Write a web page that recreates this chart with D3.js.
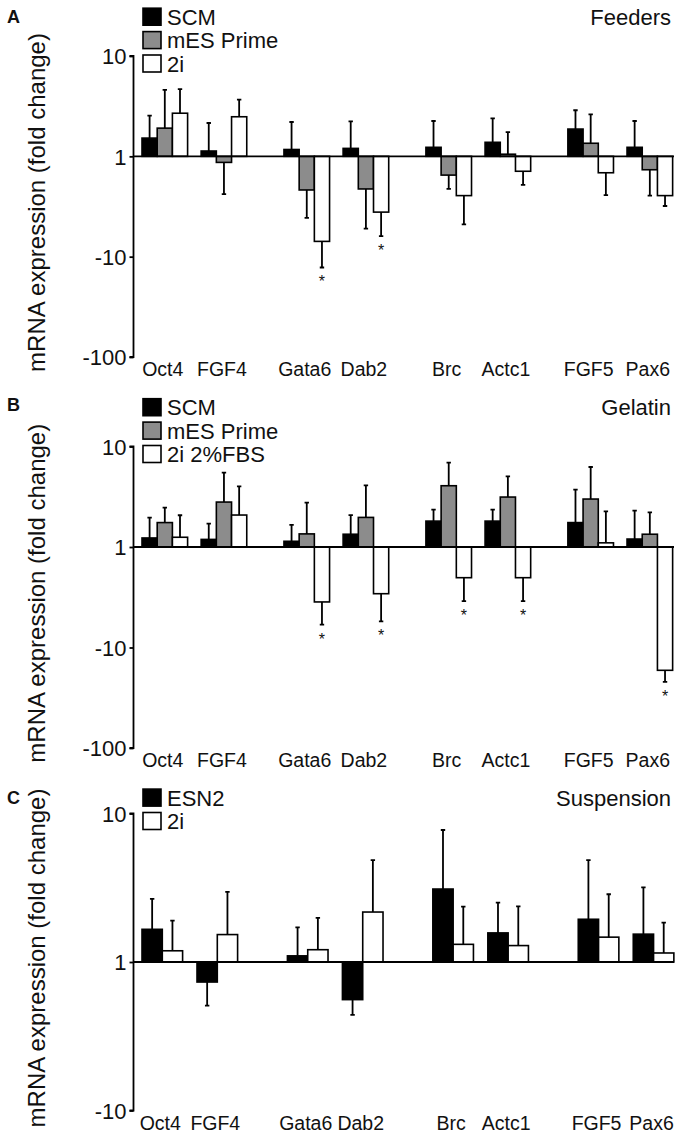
<!DOCTYPE html>
<html><head><meta charset="utf-8">
<script src="https://cdn.jsdelivr.net/npm/d3@7"></script>
<style>
html,body{margin:0;padding:0;background:#fff;}
svg text{font-family:"Liberation Sans",Arial,sans-serif;fill:#111;}
</style></head>
<body>
<svg id="chart" width="682" height="1137"></svg>
<script>
// ---------- data (fold-change ratios; values below 1 are shown as negative fold) ----------
const categories = ["Oct4","FGF4","Gata6","Dab2","Brc","Actc1","FGF5","Pax6"];

// Panel A – Feeders
const feedersSCM      = [1.52, 1.13, 1.17, 1.20, 1.23, 1.38, 1.87, 1.23];
const feedersSCMErr   = [2.54, 2.15, 2.20, 2.23, 2.25, 2.39, 2.88, 2.25];
const feedersPrime    = [1.91, 0.87, 0.462, 0.473, 0.65, 1.05, 1.35, 0.735];
const feedersPrimeErr = [4.60, 0.42, 0.244, 0.19, 0.473, 1.74, 2.62, 0.406];
const feeders2i       = [2.69, 2.48, 0.142, 0.278, 0.406, 0.71, 0.686, 0.406];
const feeders2iErr    = [4.68, 3.68, 0.078, 0.16, 0.21, 0.52, 0.41, 0.32];
const feeders2iSig    = [0, 0, 1, 1, 0, 0, 0, 0];

// Panel B – Gelatin
const gelatinSCM      = [1.23, 1.19, 1.14, 1.34, 1.81, 1.81, 1.75, 1.20];
const gelatinSCMErr   = [1.96, 1.71, 1.66, 2.08, 2.35, 2.35, 3.72, 2.30];
const gelatinPrime    = [1.75, 2.80, 1.35, 1.97, 4.07, 3.14, 3.00, 1.34];
const gelatinPrimeErr = [2.46, 5.49, 2.76, 4.11, 6.90, 5.05, 6.25, 2.21];
const gelatin2i       = [1.25, 2.08, 0.284, 0.343, 0.495, 0.495, 1.10, 0.0593];
const gelatin2iErr    = [2.07, 4.02, 0.169, 0.182, 0.29, 0.29, 2.26, 0.0454];
const gelatin2iSig    = [0, 0, 1, 1, 1, 1, 0, 1];

// Panel C – Suspension
const suspESN2        = [1.66, 0.733, 1.10, 0.558, 3.10, 1.57, 1.94, 1.54];
const suspESN2Err     = [2.66, 0.508, 1.71, 0.44, 7.74, 2.51, 4.86, 3.18];
const susp2i          = [1.19, 1.53, 1.21, 2.17, 1.315, 1.29, 1.47, 1.15];
const susp2iErr       = [1.90, 2.97, 1.98, 4.86, 2.36, 2.37, 2.86, 1.84];

const ticksAB = [10, 1, 0.1, 0.01];
const ticksC  = [10, 1, 0.1];
const fmtTick = v => v >= 1 ? String(v) : String(-Math.round(1 / v));

// ---------- drawing ----------
const svg = d3.select("#chart");
const BLACK = "#000", GRAY = "#8c8c8c", WHITE = "#fff";
const axisX = 133.5, rightX = 674;

const panels = [
  { letter: "A", title: "Feeders", domain: [0.01, 10], range: [357, 56], ticks: ticksAB,
    letterY: 23, start: 142, slot: 59.15, gap: 0.4, barW: 15.2,
    series: [
      { name: "SCM", fill: BLACK, v: feedersSCM, e: feedersSCMErr },
      { name: "mES Prime", fill: GRAY, v: feedersPrime, e: feedersPrimeErr },
      { name: "2i", fill: WHITE, v: feeders2i, e: feeders2iErr, sig: feeders2iSig }
    ] },
  { letter: "B", title: "Gelatin", domain: [0.01, 10], range: [748, 446.5], ticks: ticksAB,
    letterY: 411, start: 142, slot: 59.15, gap: 0.4, barW: 15.2,
    series: [
      { name: "SCM", fill: BLACK, v: gelatinSCM, e: gelatinSCMErr },
      { name: "mES Prime", fill: GRAY, v: gelatinPrime, e: gelatinPrimeErr },
      { name: "2i 2%FBS", fill: WHITE, v: gelatin2i, e: gelatin2iErr, sig: gelatin2iSig }
    ] },
  { letter: "C", title: "Suspension", domain: [0.1, 10], range: [1110.5, 813.5], ticks: ticksC,
    letterY: 804, start: 142, slot: 55, gap: 0.644, barW: 20.3,
    series: [
      { name: "ESN2", fill: BLACK, v: suspESN2, e: suspESN2Err },
      { name: "2i", fill: WHITE, v: susp2i, e: susp2iErr }
    ] }
];

panels.forEach(p => {
  const g = svg.append("g");
  const y = d3.scaleLog().domain(p.domain).range(p.range);
  const y1 = y(1);
  const nS = p.series.length;
  const gw = p.barW * nS;
  const slotIdx = categories.map((c, i) => i + Math.floor(i / 2) * p.gap);
  const x = d3.scaleLinear().domain([0, 1]).range([p.start, p.start + p.slot]);
  const xs = d3.scaleBand().domain(p.series.map(s => s.name)).range([0, gw]);

  // y axis
  const axis = d3.axisLeft(y).tickValues(p.ticks).tickFormat(fmtTick).tickSize(4).tickPadding(3);
  const ag = g.append("g").attr("transform", `translate(${axisX},0)`).call(axis);
  ag.select(".domain").attr("stroke", "#000").attr("stroke-width", 1.8).attr("d", `M-4,${p.range[1]}H0V${p.range[0]}H-4`);
  ag.selectAll(".tick line").attr("stroke", "#000").attr("stroke-width", 1.8);
  ag.selectAll(".tick text").style("font-size", "22px").attr("dy", "0.36em").attr("fill", "#111");

  // y title
  const cy = (p.range[0] + p.range[1]) / 2 - 4;
  g.append("text").attr("transform", `translate(45,${cy}) rotate(-90)`)
    .attr("text-anchor", "middle").style("font-size", "24px")
    .text("mRNA expression (fold change)");

  // bars
  p.series.forEach((s, si) => {
    const bx = i => x(slotIdx[i]) + xs(s.name);
    const cxs = i => bx(i) + xs.bandwidth() / 2;
    g.selectAll(null).data(s.v).join("rect")
      .attr("x", (d, i) => bx(i)).attr("width", xs.bandwidth())
      .attr("y", d => Math.min(y(d), y1)).attr("height", d => Math.abs(y(d) - y1))
      .attr("fill", s.fill).attr("stroke", "#000").attr("stroke-width", 1.6);
    // error bars
    g.selectAll(null).data(s.e).join("path")
      .attr("d", (d, i) => `M${cxs(i)},${y(s.v[i])}V${y(d)}M${cxs(i) - 2.2},${y(d)}H${cxs(i) + 2.2}`)
      .attr("stroke", "#000").attr("stroke-width", 1.8).attr("fill", "none");
    // significance
    if (s.sig) {
      const idx = s.sig.map((d, i) => d ? i : -1).filter(i => i >= 0);
      g.selectAll(null).data(idx).join("text")
        .attr("x", i => cxs(i)).attr("y", i => y(s.e[i]) + 20)
        .attr("text-anchor", "middle").style("font-size", "16px").text("*");
    }
  });

  // baseline
  g.append("line").attr("x1", axisX).attr("x2", rightX).attr("y1", y1).attr("y2", y1)
    .attr("stroke", "#000").attr("stroke-width", 1.8);

  // category labels
  g.selectAll(null).data(categories).join("text")
    .attr("x", (d, i) => x(slotIdx[i]) + gw / 2 - 2)
    .attr("y", p.range[0] + 19)
    .attr("text-anchor", "middle").style("font-size", "19.5px").text(d => d);

  // legend
  const top = p.range[1];
  p.series.forEach((s, si) => {
    const ry = top - 1 - (nS - 1 - si) * 23.4;
    g.append("rect").attr("x", 143).attr("y", ry).attr("width", 18).attr("height", 17)
      .attr("fill", s.fill).attr("stroke", "#000").attr("stroke-width", 1.6);
    g.append("text").attr("x", 167).attr("y", ry + 16.5).style("font-size", "22px").text(s.name);
  });

  // panel title and letter
  g.append("text").attr("x", 671).attr("y", top - 1 - (nS - 1) * 23.4 + 16.5)
    .attr("text-anchor", "end").style("font-size", "22px").text(p.title);
  g.append("text").attr("x", 7).attr("y", p.letterY)
    .style("font-size", "18px").style("font-weight", "bold").text(p.letter);
});
</script>
</body></html>
